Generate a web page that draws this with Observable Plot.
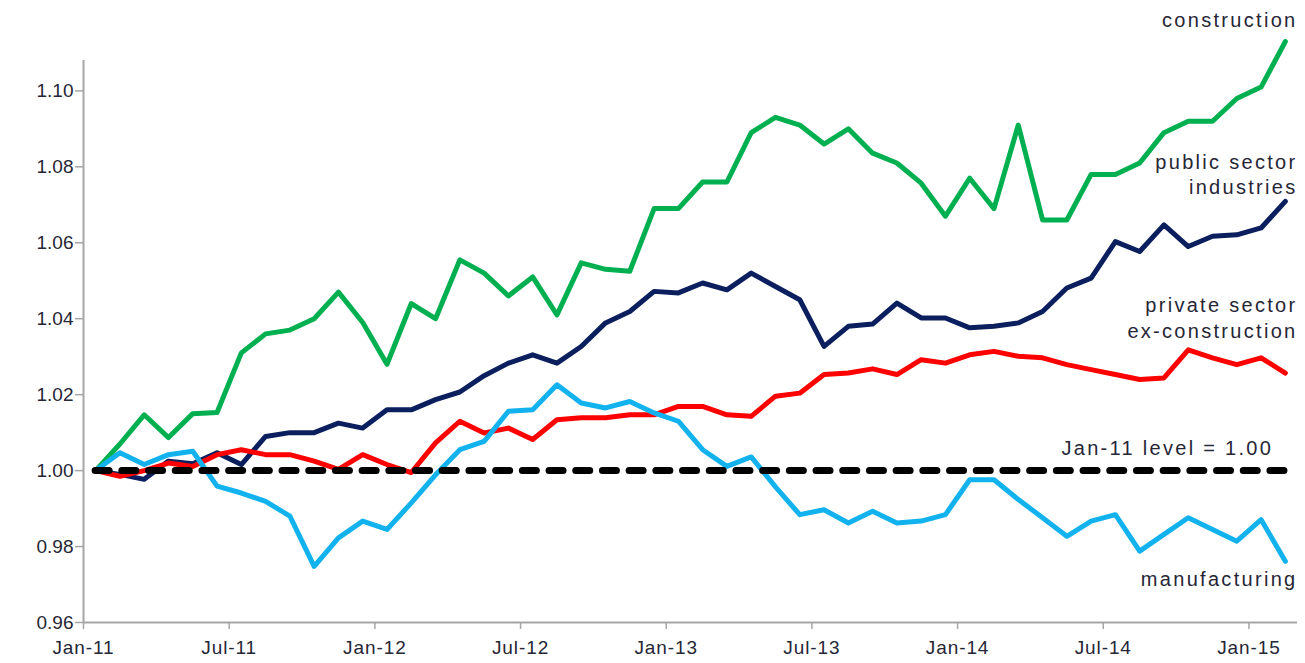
<!DOCTYPE html>
<html>
<head>
<meta charset="utf-8">
<script src="https://cdn.jsdelivr.net/npm/d3@7"></script>
<script src="https://cdn.jsdelivr.net/npm/@observablehq/plot@0.6"></script>
<style>
  html, body { margin: 0; padding: 0; background: #ffffff; }
  #chart { width: 1305px; height: 663px; }
</style>
</head>
<body>
<div id="chart"></div>
<script>
// ---- data ----
const months = [
  "Jan-11","Feb-11","Mar-11","Apr-11","May-11","Jun-11","Jul-11","Aug-11","Sep-11","Oct-11","Nov-11","Dec-11",
  "Jan-12","Feb-12","Mar-12","Apr-12","May-12","Jun-12","Jul-12","Aug-12","Sep-12","Oct-12","Nov-12","Dec-12",
  "Jan-13","Feb-13","Mar-13","Apr-13","May-13","Jun-13","Jul-13","Aug-13","Sep-13","Oct-13","Nov-13","Dec-13",
  "Jan-14","Feb-14","Mar-14","Apr-14","May-14","Jun-14","Jul-14","Aug-14","Sep-14","Oct-14","Nov-14","Dec-14",
  "Jan-15","Feb-15"
];

const construction = [
  1.000, 1.007, 1.0147, 1.0087, 1.0150, 1.0153, 1.031, 1.036, 1.037, 1.040, 1.047, 1.039,
  1.028, 1.044, 1.040, 1.0555, 1.052, 1.046, 1.051, 1.041, 1.0547, 1.053, 1.0525, 1.069,
  1.069, 1.076, 1.076, 1.089, 1.093, 1.091, 1.086, 1.090, 1.0836, 1.081, 1.0757, 1.067,
  1.077, 1.069, 1.091, 1.066, 1.066, 1.078, 1.078, 1.081, 1.089, 1.092, 1.092, 1.098,
  1.101, 1.113
];

const publicSector = [
  1.000, 0.999, 0.9977, 1.0025, 1.0018, 1.0047, 1.0016, 1.009, 1.010, 1.010, 1.0125, 1.0112,
  1.016, 1.016, 1.0187, 1.0207, 1.025, 1.0283, 1.0305, 1.0283, 1.0327, 1.0389, 1.0419, 1.0472,
  1.0468, 1.0494, 1.0476, 1.052, 1.0485, 1.045, 1.0327, 1.038, 1.0386, 1.0441, 1.0402, 1.0402,
  1.0376, 1.038, 1.0389, 1.0419, 1.0481, 1.0507, 1.0603, 1.0577, 1.0647, 1.059, 1.0617, 1.0621,
  1.0639, 1.0709
];

const privateExConstruction = [
  1.000, 0.9985, 1.000, 1.002, 1.0011, 1.0042, 1.0055, 1.0042, 1.0042, 1.0025, 1.0003, 1.0042,
  1.0016, 0.9995, 1.0073, 1.013, 1.0099, 1.0112, 1.0082, 1.0134, 1.0139, 1.0139, 1.0147, 1.0147,
  1.0169, 1.0169, 1.0147, 1.0143, 1.0196, 1.0204, 1.0253, 1.0257, 1.0268, 1.0253, 1.0292, 1.0283,
  1.0305, 1.0314, 1.0301, 1.0297, 1.0279, 1.0266, 1.0253, 1.024, 1.0244, 1.0318, 1.0297, 1.0279,
  1.0297, 1.0257
];

const manufacturing = [
  1.000, 1.0047, 1.0016, 1.0042, 1.0051, 0.9959, 0.9941, 0.9919, 0.988, 0.9748, 0.9823, 0.9867,
  0.9845, 0.9915, 0.9989, 1.0055, 1.0077, 1.0156, 1.016, 1.0226, 1.0178, 1.0165, 1.0182, 1.0152,
  1.013, 1.0055, 1.0011, 1.0036, 0.9957, 0.9884, 0.9897, 0.9862, 0.9893, 0.9862, 0.9867, 0.9884,
  0.9976, 0.9976, 0.9924, 0.9876, 0.9827, 0.9867, 0.9884, 0.9788, 0.9832, 0.9876, 0.9845, 0.9814,
  0.9871, 0.9761
];

const baseline = 1.00;
const yTicks = [0.96, 0.98, 1.00, 1.02, 1.04, 1.06, 1.08, 1.10];
const xTickLabels = ["Jan-11","Jul-11","Jan-12","Jul-12","Jan-13","Jul-13","Jan-14","Jul-14","Jan-15"];

const seriesNames  = ["construction", "public sector industries", "private sector ex-construction", "manufacturing"];
const seriesValues = [construction, publicSector, privateExConstruction, manufacturing];
const seriesColors = ["#00B050", "#0B1F5E", "#FF0000", "#12B2EE"];

// direct labels: text and anchor in data units (month index, value)
const labelTexts = ["construction", "public sector", "industries", "private sector", "ex-construction", "Jan-11 level = 1.00", "manufacturing"];
const labelMonth = [50, 50, 50, 50, 50, 49, 50];
const labelValue = [1.1185, 1.0812, 1.0745, 1.0434, 1.0366, 1.0058, 0.9713];

// ---- build ----
const nMonths = months.length;
const monthIndex = new Map(months.map((m, i) => [m, i]));
const xTickValues = xTickLabels.map(m => monthIndex.get(m));

const rows = seriesNames.map((name, s) =>
  seriesValues[s].map((v, i) => ({ series: name, x: i + 0.5, y: v }))
);

const labels = labelTexts.map((t, k) => ({ text: t, x: labelMonth[k], y: labelValue[k] }));

const axisColor = "#A6A6A6";
const textColor = "#262636";

const chart = Plot.plot({
  width: 1305,
  height: 663,
  marginLeft: 83,
  marginRight: 8,
  marginTop: 60,
  marginBottom: 41,
  x: { domain: [0, nMonths], axis: null },
  y: { domain: [0.96, 1.108], axis: null },
  style: {
    fontFamily: "'Liberation Sans', Arial, sans-serif",
    fontSize: "19px",
    color: textColor,
    background: "#ffffff"
  },
  marks: [
    Plot.axisY({
      ticks: yTicks, tickSize: 8, tickPadding: 2, tickFormat: d3.format(".2f"), label: null,
      stroke: axisColor, strokeWidth: 1.5, fill: textColor, fontSize: 19
    }),
    Plot.axisX({
      ticks: xTickValues, tickSize: 7, tickPadding: 11, tickFormat: i => months[i], label: null,
      stroke: axisColor, strokeWidth: 1.5, fill: textColor, fontSize: 19, className: "xax"
    }),
    Plot.ruleX([0], { stroke: axisColor, strokeWidth: 2 }),
    Plot.ruleY([0.96], { stroke: axisColor, strokeWidth: 2 }),
    ...rows.map((data, s) =>
      Plot.line(data, {
        x: "x", y: "y",
        stroke: seriesColors[s], strokeWidth: 5,
        strokeLinejoin: "round", strokeLinecap: "round"
      })
    ),
    Plot.ruleY([baseline], {
      x1: 0.5, x2: nMonths - 0.5,
      stroke: "#000000", strokeWidth: 7,
      strokeDasharray: "14,12.7", strokeLinecap: "round"
    }),
    Plot.text(labels, {
      x: "x", y: "y", text: "text",
      textAnchor: "end", fill: textColor, fontSize: 20,
      className: "lbl"
    })
  ]
});

document.getElementById("chart").appendChild(chart);
// letter spacing for direct labels and x tick labels
chart.querySelectorAll(".lbl text").forEach(t => t.style.letterSpacing = "2.3px");
chart.querySelectorAll(".xax text").forEach(t => t.style.letterSpacing = "0.9px");
</script>
</body>
</html>
